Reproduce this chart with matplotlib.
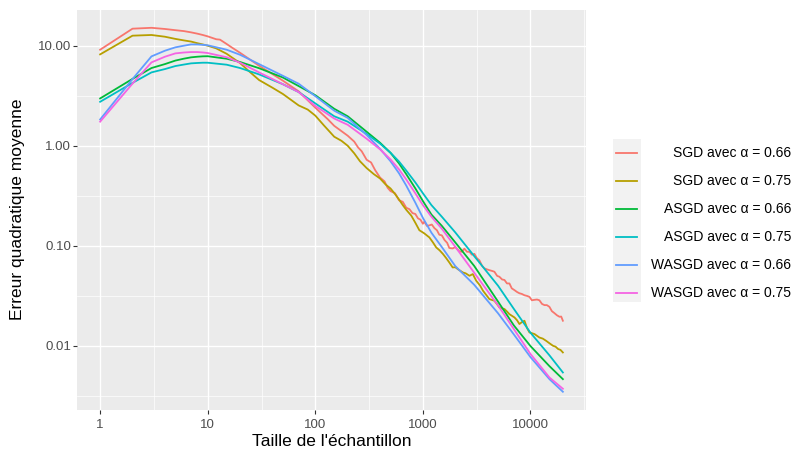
import matplotlib
matplotlib.use("Agg")
import matplotlib.pyplot as plt
from matplotlib.lines import Line2D
from matplotlib.patches import Rectangle
from matplotlib.ticker import FixedLocator, NullFormatter

plt.rcParams['font.family'] = ['Liberation Sans', 'DejaVu Sans']

# ---------------- data ----------------
labels = ["SGD avec α = 0.66", "SGD avec α = 0.75",
          "ASGD avec α = 0.66", "ASGD avec α = 0.75",
          "WASGD avec α = 0.66", "WASGD avec α = 0.75"]
colors = ["#F8766D", "#B79F00", "#00BA38", "#00BFC4", "#619CFF", "#F564E3"]

n_smooth = [1, 2, 3, 4, 5, 6, 7, 8, 9, 10, 15, 20, 30, 50, 70, 100, 150, 200, 300,
            400, 500, 600, 700, 850, 1000, 1200, 1500, 2000, 3000, 5000, 7000,
            10000, 15000, 20000]

asgd_066 = [2.97, 4.66, 5.98, 6.55, 7.10, 7.42, 7.65, 7.76, 7.83, 7.85, 7.41, 6.87,
            5.96, 4.81, 3.95, 3.20, 2.34, 1.97, 1.38, 1.07, 0.85, 0.665, 0.52,
            0.375, 0.28, 0.205, 0.158, 0.108, 0.0628, 0.0276, 0.0160, 0.00993,
            0.00626, 0.00464]
asgd_075 = [2.75, 4.25, 5.41, 5.84, 6.26, 6.48, 6.66, 6.72, 6.76, 6.76, 6.46, 5.98,
            5.17, 4.12, 3.44, 2.65, 1.97, 1.74, 1.31, 1.05, 0.85, 0.695, 0.565,
            0.43, 0.335, 0.255, 0.195, 0.136, 0.0788, 0.0398, 0.0234, 0.0135,
            0.00803, 0.00541]
wasgd_066 = [1.83, 4.64, 7.82, 8.91, 9.63, 10.0, 10.3, 10.3, 10.2, 10.1, 9.12, 8.11,
             6.55, 5.0, 4.17, 3.13, 2.24, 1.90, 1.28, 0.93, 0.70, 0.53, 0.40, 0.27,
             0.19, 0.135, 0.097, 0.0626, 0.0407, 0.0211, 0.0130, 0.0077, 0.00464,
             0.00347]
wasgd_075 = [1.74, 4.18, 6.81, 7.76, 8.38, 8.55, 8.64, 8.64, 8.56, 8.45, 7.67, 6.76,
             5.41, 4.12, 3.44, 2.50, 1.87, 1.62, 1.175, 0.92, 0.73, 0.58, 0.46,
             0.335, 0.255, 0.195, 0.148, 0.0977, 0.0537, 0.0253, 0.0147, 0.00828,
             0.00482, 0.00372]

n_sgd066 = [1, 2, 3, 4, 5, 6, 7, 8, 9, 10, 12, 13, 15, 17, 20, 30, 40, 50, 70, 100,
            130, 150, 200, 230, 250, 270, 300, 330, 360, 400, 440, 470, 500, 550,
            600, 650, 700, 750, 800, 850, 900, 950, 1000, 1030, 1090, 1150, 1210,
            1280, 1350, 1420, 1500, 1590, 1680, 1760, 1890, 2000, 2180, 2300, 2430,
            2570, 2710, 2850, 3010, 3180, 3350, 3550, 3730, 3950, 4150, 4400, 4620,
            4900, 5140, 5450, 5730, 6050, 6370, 6700, 7100, 7500, 7890, 8300, 8790,
            9300, 9780, 10300, 10900, 11500, 12100, 12800, 13500, 14200, 15000,
            15800, 16700, 17600, 18600, 19300, 20000]
sgd_066 = [9.12, 14.8, 15.1, 14.7, 14.3, 14.0, 13.6, 13.2, 12.8, 12.4, 11.6, 11.5,
           10.4, 9.5, 8.49, 6.31, 5.2, 4.47, 3.5, 2.4, 1.85, 1.58, 1.26, 1.10,
           0.96, 0.88, 0.724, 0.68, 0.57, 0.48, 0.44, 0.38, 0.352, 0.335, 0.285,
           0.275, 0.24, 0.232, 0.212, 0.208, 0.188, 0.182, 0.166, 0.174, 0.158,
           0.160, 0.163, 0.150, 0.143, 0.129, 0.127, 0.114, 0.107, 0.0950, 0.0940,
           0.0970, 0.0880, 0.0870, 0.0935, 0.0870, 0.0870, 0.0815, 0.0830, 0.0750,
           0.0715, 0.0630, 0.0595, 0.0580, 0.0570, 0.0560, 0.0550, 0.0500, 0.0490,
           0.0460, 0.0455, 0.0420, 0.0420, 0.0375, 0.0360, 0.0345, 0.0335, 0.0330,
           0.0320, 0.0315, 0.0308, 0.0285, 0.0288, 0.0290, 0.0285, 0.0262, 0.0255,
           0.0255, 0.0245, 0.0222, 0.0212, 0.0202, 0.0195, 0.0196, 0.0178]

n_sgd075 = [1, 2, 3, 4, 5, 6, 7, 8, 9, 10, 12, 15, 20, 24, 30, 40, 50, 70, 85, 100,
            120, 150, 175, 200, 230, 260, 300, 350, 400, 450, 500, 550, 600, 650,
            700, 780, 850, 927, 1030, 1150, 1240, 1330, 1430, 1540, 1650, 1760,
            1890, 2000, 2110, 2350, 2500, 2710, 2910, 3130, 3400, 3620, 3900, 4150,
            4620, 4900, 5140, 5730, 6050, 6370, 7100, 7500, 7890, 8300, 8790, 9300,
            9780, 10900, 12100, 13000, 14000, 15000, 16200, 17100, 18100, 19000,
            20000]
sgd_075 = [8.19, 12.6, 12.8, 12.3, 11.7, 11.3, 11.0, 10.6, 10.3, 10.0, 9.4, 8.3,
           6.7, 5.6, 4.54, 3.8, 3.29, 2.53, 2.3, 2.0, 1.6, 1.23, 1.12, 1.0, 0.84,
           0.70, 0.598, 0.52, 0.47, 0.41, 0.374, 0.33, 0.29, 0.255, 0.229, 0.20,
           0.17, 0.143, 0.133, 0.121, 0.108, 0.0962, 0.090, 0.0825, 0.075, 0.0681,
           0.0607, 0.061, 0.0584, 0.0541, 0.053, 0.0501, 0.0521, 0.0447, 0.040,
           0.0355, 0.032, 0.0293, 0.0282, 0.026, 0.0242, 0.0233, 0.022, 0.0207,
           0.0192, 0.018, 0.0165, 0.0172, 0.0178, 0.015, 0.0136, 0.0131, 0.0121,
           0.0118, 0.0112, 0.0106, 0.0100, 0.0098, 0.00927, 0.0091, 0.00858]

x_ticks = [1, 10, 100, 1000, 10000]
x_ticklabels = ["1", "10", "100", "1000", "10000"]
y_ticks = [0.01, 0.1, 1, 10]
y_ticklabels = ["0.01", "0.10", "1.00", "10.00"]
x_minor = [10 ** 0.5, 10 ** 1.5, 10 ** 2.5, 10 ** 3.5, 10 ** 4.5]
y_minor = [10 ** -2.5, 10 ** -1.5, 10 ** -0.5, 10 ** 0.5]

series = [(n_sgd066, sgd_066), (n_sgd075, sgd_075), (n_smooth, asgd_066),
          (n_smooth, asgd_075), (n_smooth, wasgd_066), (n_smooth, wasgd_075)]

# ---------------- figure ----------------
W, H = 793, 451
P_LEFT, P_RIGHT, P_TOP, P_BOTTOM = 77, 586, 9.5, 410
fig = plt.figure(figsize=(W / 100, H / 100), dpi=100)
ax = fig.add_axes([P_LEFT / W, 1 - P_BOTTOM / H, (P_RIGHT - P_LEFT) / W,
                   (P_BOTTOM - P_TOP) / H])
ax.set_facecolor("#EBEBEB")

for (xs, ys), c in zip(series, colors):
    ax.plot(xs, ys, color=c, lw=1.3, solid_joinstyle="round")

ax.set_xscale("log")
ax.set_yscale("log")
ax.set_xlim(10 ** -0.215, 10 ** 4.516)
ax.set_ylim(10 ** -2.642, 10 ** 1.362)

ax.xaxis.set_major_locator(FixedLocator(x_ticks))
ax.set_xticklabels(x_ticklabels)
ax.yaxis.set_major_locator(FixedLocator(y_ticks))
ax.set_yticklabels(y_ticklabels)
ax.xaxis.set_minor_locator(FixedLocator(x_minor))
ax.yaxis.set_minor_locator(FixedLocator(y_minor))
ax.xaxis.set_minor_formatter(NullFormatter())
ax.yaxis.set_minor_formatter(NullFormatter())

ax.grid(True, which="major", color="white", lw=1.0)
ax.grid(True, which="minor", color="white", lw=0.5)
ax.set_axisbelow(True)
for s in ax.spines.values():
    s.set_visible(False)
ax.tick_params(which="major", length=2.75, width=0.8, color="#333333",
               labelcolor="#4D4D4D", labelsize=9.5)
ax.tick_params(axis="x", which="major", pad=3.8)
ax.tick_params(axis="y", which="major", pad=1.5)
ax.tick_params(which="minor", length=0)


def fx(px):
    return px / W


def fy(py):
    return 1 - py / H


fig.text(fx((P_LEFT + P_RIGHT) / 2), fy(441), "Taille de l'échantillon",
         ha="center", va="center", fontsize=12.5, color="black")
fig.text(fx(18), fy((P_TOP + P_BOTTOM) / 2), "Erreur quadratique moyenne",
         ha="center", va="center", rotation=90, fontsize=12.5, color="black")

# ---------------- legend (ggplot style, right aligned labels) ----------------
fig.patches.append(Rectangle((fx(612.7), fy(302)), fx(640.7) - fx(612.7),
                             fy(139) - fy(302), transform=fig.transFigure,
                             facecolor="#F2F2F2", edgecolor="none"))
for i, (lab, c) in enumerate(zip(labels, colors)):
    yc = 152.7 + 28 * i
    fig.lines.append(Line2D([fx(616), fx(637)], [fy(yc), fy(yc)],
                            transform=fig.transFigure, color=c, lw=1.3))
    fig.text(fx(791), fy(yc), lab, ha="right", va="center", fontsize=10,
             color="black")

fig.savefig("out.png", dpi=100)
